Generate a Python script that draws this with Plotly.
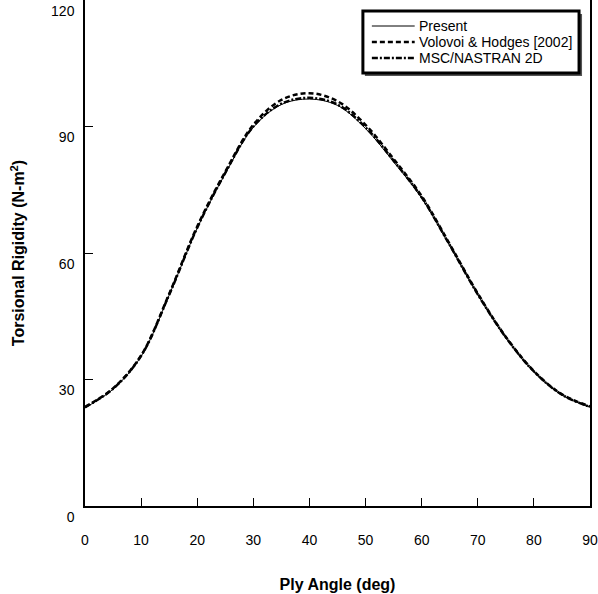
import plotly.graph_objects as go

angles = [0, 5, 10, 15, 20, 25, 30, 35, 40, 45, 50, 55, 60, 65, 70, 75, 80, 85, 90]
present = [23.3, 27.7, 35.5, 50.0, 65.9, 78.8, 89.8, 95.2, 96.5, 95.0, 89.5, 81.6, 73.0, 61.7, 50.1, 39.9, 31.8, 26.3, 23.5]
volovoi = [23.5, 27.9, 35.7, 50.3, 66.3, 79.3, 90.4, 96.3, 97.9, 96.0, 90.4, 82.3, 73.5, 62.1, 50.4, 40.1, 32.0, 26.5, 23.6]
msc = [23.4, 27.8, 35.6, 50.1, 66.0, 79.0, 90.0, 95.4, 96.8, 95.2, 89.8, 81.9, 73.2, 61.9, 50.2, 40.0, 31.9, 26.4, 23.5]
series_names = ["Present", "Volovoi & Hodges [2002]", "MSC/NASTRAN 2D"]
y_ticks = [0, 30, 60, 90, 120]
x_ticks = [0, 10, 20, 30, 40, 50, 60, 70, 80, 90]

FONT = "Liberation Sans, Arial, sans-serif"
styles = [
    dict(color="black", width=1),
    dict(color="black", width=2.5, dash="5px,3px"),
    dict(color="black", width=2.5, dash="6px,2px,2px,2px"),
]

fig = go.Figure()
for name, vals, st in zip(series_names, [present, volovoi, msc], styles):
    fig.add_trace(go.Scatter(x=angles, y=vals, mode="lines", name=name,
                             line=dict(shape="spline", **st), showlegend=False))

# ---- legend box drawn in paper coordinates (plot area: x 85..592 px, y 0..506 px)
L, W, H = 85, 507, 506
px = lambda v: (v - L) / W
py = lambda v: (H - v) / H
fig.add_shape(type="rect", xref="paper", yref="paper", x0=px(366), x1=px(584), y0=py(76), y1=py(14),
              fillcolor="#555555", line=dict(width=0), layer="above")
fig.add_shape(type="rect", xref="paper", yref="paper", x0=px(364), x1=px(581), y0=py(73), y1=py(11),
              fillcolor="white", line=dict(color="black", width=3), layer="above")
for i, (name, st) in enumerate(zip(series_names, styles)):
    yy = 26 + i * 16
    fig.add_shape(type="line", xref="paper", yref="paper", x0=px(373), x1=px(416), y0=py(yy), y1=py(yy),
                  line=st, layer="above")
    fig.add_annotation(xref="paper", yref="paper", x=px(418), y=py(yy), text=name, showarrow=False,
                       xanchor="left", yanchor="middle", font=dict(family=FONT, size=14, color="black"))

fig.update_layout(
    width=598, height=594,
    margin=dict(l=85, r=6, t=0, b=88),
    paper_bgcolor="white", plot_bgcolor="white",
    font=dict(family=FONT, size=14, color="black"),
    showlegend=False,
    xaxis=dict(range=[0, 90], tickvals=x_ticks, ticks="inside", ticklen=8, tickcolor="black",
               tickfont=dict(family=FONT, size=14, color="black"),
               showline=True, linecolor="black", linewidth=1.5, showgrid=False, zeroline=False,
               ticklabelstandoff=20, ticklabeloverflow="allow",
               title=dict(text="<b>Ply Angle (deg)</b>", font=dict(family=FONT, size=16, color="black"), standoff=32)),
    yaxis=dict(range=[0, 120], tickvals=y_ticks, ticks="inside", ticklen=8, tickcolor="black",
               tickfont=dict(family=FONT, size=14, color="black"),
               showline=True, linecolor="black", linewidth=1.5, mirror=True, showgrid=False,
               zeroline=False, ticklabelstandoff=6, ticklabelshift=11, ticklabeloverflow="allow",
               title=dict(text="<b>Torsional Rigidity (N-m<sup>2</sup>)</b>", font=dict(family=FONT, size=16, color="black"), standoff=22)),
)

fig.write_html("out.html")
